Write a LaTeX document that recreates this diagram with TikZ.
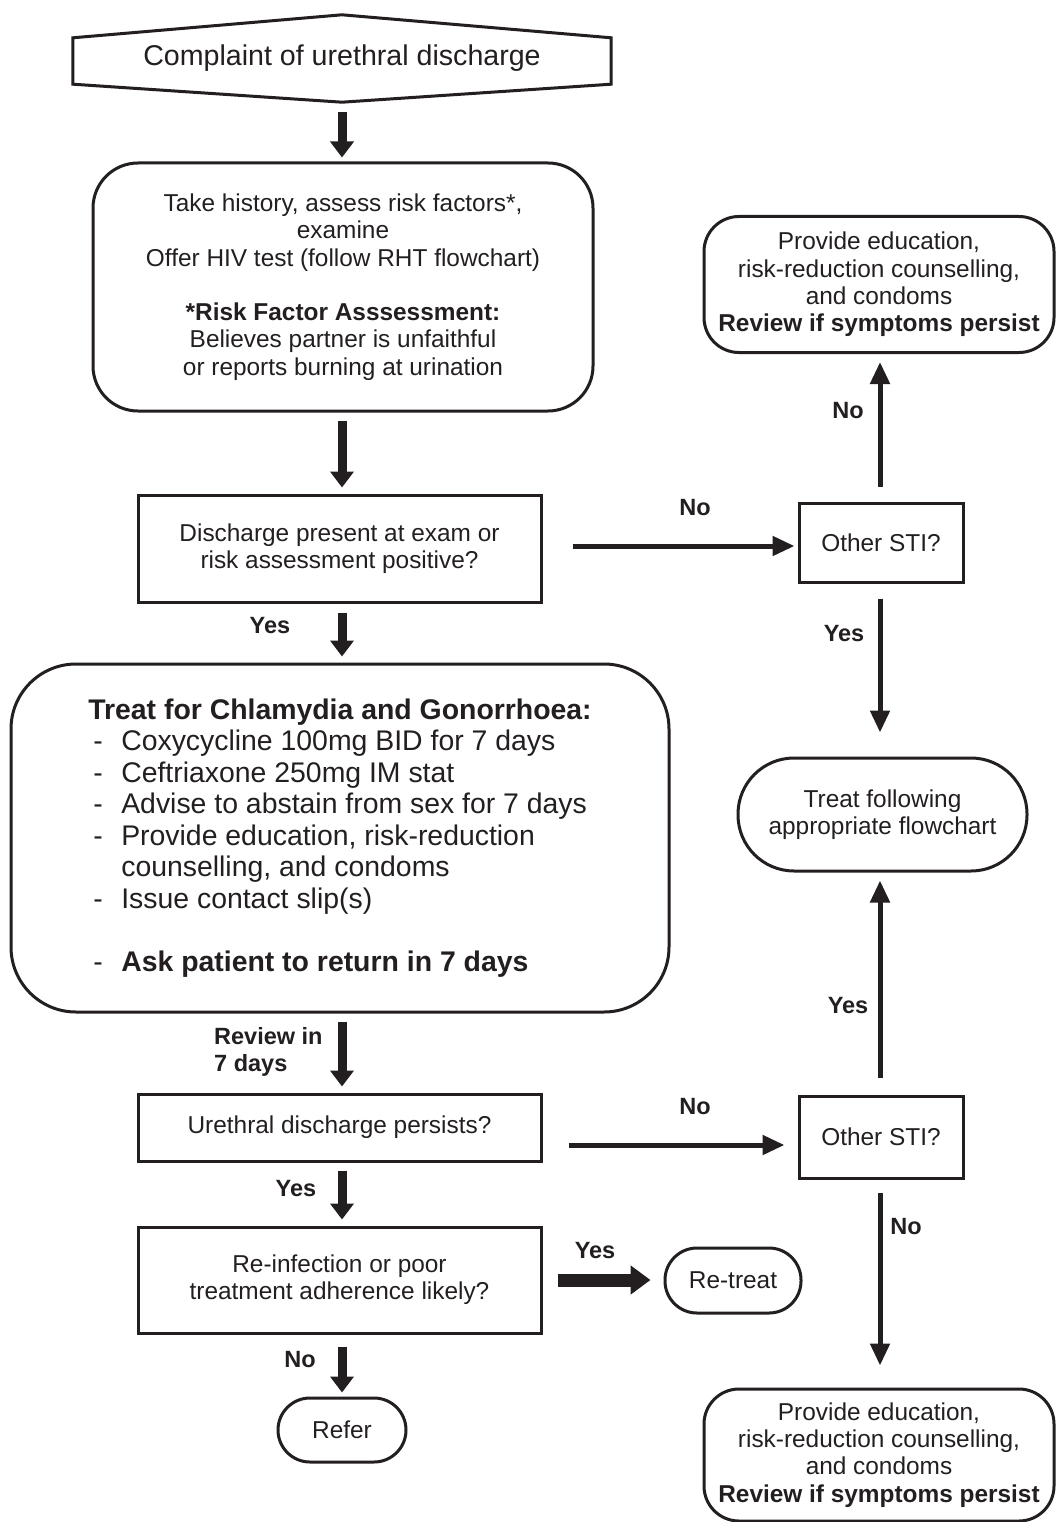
\documentclass[tikz,border=0pt]{standalone}
\usepackage{fontspec}
\setmainfont{Liberation Sans}
\usetikzlibrary{arrows.meta,calc}
\definecolor{ink}{HTML}{231F20}
\newcommand\lstdash{\hspace*{5pt}\makebox[28pt][l]{-}}
\begin{document}
\begin{tikzpicture}[x=1pt,y=-1pt,
  every node/.style={text=ink,font=\fontsize{24.4}{27.3}\selectfont},
  box/.style={draw=ink,line width=3pt,align=center,inner sep=0pt},
  rbox/.style={box,rounded corners=#1},
  fat/.style={draw=ink,line width=9pt,-{Triangle[width=23pt,length=16pt]}},
  slim/.style={draw=ink,line width=5pt,-{Triangle[width=19pt,length=22pt]}},
  broad/.style={draw=ink,line width=13pt,-{Triangle[width=28pt,length=20pt]}},
  lbl/.style={font=\bfseries\fontsize{23.5}{27}\selectfont,align=left,inner sep=0pt}]

\fill[white] (0,0) rectangle (1058,1522);
\useasboundingbox (0,0) rectangle (1058,1522);

% --- entry banner ---
\node[minimum width=538pt,minimum height=87pt,inner sep=0pt,
      font=\fontsize{28.6}{32}\selectfont] (start) at (342,58.5)
      {Complaint of urethral discharge};
\draw[draw=ink,line width=3pt,line join=miter]
  ($(start.north west)+(0,23)$) -- (start.north) -- ($(start.north east)+(0,23)$)
  -- ($(start.south east)+(0,-18)$) -- (start.south) -- ($(start.south west)+(0,-18)$)
  -- cycle;

% --- main column ---
\node[rbox=45pt,minimum width=500pt,minimum height=248pt] (hist) at (343,287)
  {Take history, assess risk factors*,\\examine\\Offer HIV test (follow RHT flowchart)\\[27.3pt]
   \textbf{*Risk Factor Asssessment:}\\Believes partner is unfaithful\\or reports burning at urination};

\node[box,minimum width=403pt,minimum height=107pt] (q1) at (339.5,548.5)
  {Discharge present at exam or\\risk assessment positive?};

\node[rbox=65pt,minimum width=658pt,minimum height=348pt,align=left,
      font=\fontsize{28.4}{31.5}\selectfont] (treat) at (340,838)
  {\textbf{Treat for Chlamydia and Gonorrhoea:}\\
   \lstdash Coxycycline 100mg BID for 7 days\\
   \lstdash Ceftriaxone 250mg IM stat\\
   \lstdash Advise to abstain from sex for 7 days\\
   \lstdash Provide education, risk-reduction\\
   \hspace*{33pt}counselling, and condoms\\
   \lstdash Issue contact slip(s)\\[31.5pt]
   \lstdash \textbf{Ask patient to return in 7 days}};

\node[box,minimum width=403pt,minimum height=67pt] (q2) at (339.5,1127.5)
  {Urethral discharge persists?};

\node[box,minimum width=403pt,minimum height=106pt] (q3) at (339.5,1280)
  {Re-infection or poor\\treatment adherence likely?};

\node[rbox=32pt,minimum width=128pt,minimum height=64pt] (refer) at (342,1430) {Refer};
\node[rbox=32pt,minimum width=136pt,minimum height=65pt] (retreat) at (733,1280.5) {Re-treat};

% --- right column ---
\node[rbox=35pt,minimum width=350pt,minimum height=136pt] (edu1) at (879,284.5)
  {Provide education,\\risk-reduction counselling,\\and condoms\\\textbf{Review if symptoms persist}};
\node[box,minimum width=164pt,minimum height=79pt] (sti1) at (881,542.5) {Other STI?};
\node[rbox=56pt,minimum width=289pt,minimum height=113pt] (flow) at (882.5,814.5)
  {Treat following\\appropriate flowchart};
\node[box,minimum width=164pt,minimum height=82pt] (sti2) at (881,1137) {Other STI?};
\node[rbox=35pt,minimum width=350pt,minimum height=132pt] (edu2) at (879,1455)
  {Provide education,\\risk-reduction counselling,\\and condoms\\\textbf{Review if symptoms persist}};

% --- connectors, main column (all on the banner's axis) ---
\draw[fat,shorten <=10pt,shorten >=4pt] (start.south) -- (start.south |- hist.north);
\draw[fat,shorten <=8pt,shorten >=6pt] (start.south |- hist.south) -- (start.south |- q1.north);
\draw[fat,shorten <=9pt,shorten >=6pt] (start.south |- q1.south) -- (start.south |- treat.north);
\draw[fat,shorten <=8pt,shorten >=6pt] (start.south |- treat.south) -- (start.south |- q2.north);
\draw[fat,shorten <=8pt,shorten >=6pt] (start.south |- q2.south) -- (start.south |- q3.north);
\draw[fat,shorten <=12pt,shorten >=4pt] (start.south |- q3.south) -- (start.south |- refer.north);

% --- connectors, across ---
\draw[slim,shorten <=30pt,shorten >=3pt] ([yshift=2.5pt]q1.east) -- ([yshift=-3.5pt]sti1.west);
\draw[slim,shorten <=26pt,shorten >=13pt] ([yshift=-17.5pt]q2.east) -- ([yshift=-8pt]sti2.west);
\draw[broad,shorten <=15pt,shorten >=13pt] (q3.east) -- (q3.east -| retreat.west);

% --- connectors, right column ---
\draw[slim,shorten <=15pt,shorten >=8pt] ([xshift=-1pt]sti1.north) -- ([xshift=-1pt]sti1.north |- edu1.south);
\draw[slim,shorten <=15pt,shorten >=24pt] ([xshift=-1pt]sti1.south) -- ([xshift=-1pt]sti1.south |- flow.north);
\draw[slim,shorten <=17pt,shorten >=8pt] ([xshift=-1pt]sti2.north) -- ([xshift=-1pt]sti2.north |- flow.south);
\draw[slim,shorten <=13pt,shorten >=22pt] ([xshift=-1pt]sti2.south) -- ([xshift=-1pt]sti2.south |- edu2.north);

% --- branch labels ---
\node[lbl] (l1) at (695,508) {No};
\node[lbl] (l2) at (270,626) {Yes};
\node[lbl] (l3) at (848,411) {No};
\node[lbl] (l4) at (844,634) {Yes};
\node[lbl,anchor=west] (l5) at (214,1052) {Review in\\7 days};
\node[lbl] (l6) at (695,1107) {No};
\node[lbl] (l7) at (848,1006) {Yes};
\node[lbl] (l8) at (906,1227) {No};
\node[lbl] (l9) at (296,1189) {Yes};
\node[lbl] (l10) at (595,1251) {Yes};
\node[lbl] (l11) at (300,1360) {No};
\end{tikzpicture}
\end{document}
